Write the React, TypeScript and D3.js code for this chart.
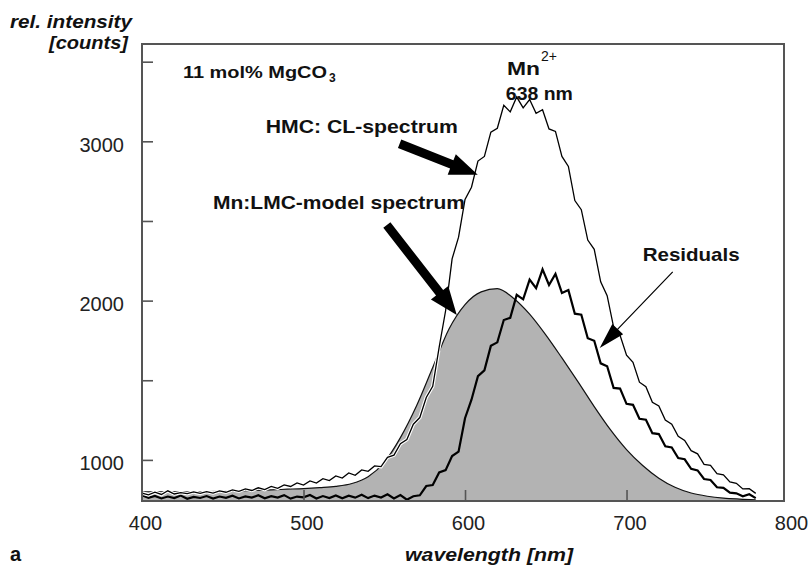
import React, { useRef, useEffect } from 'react';
import * as d3 from 'd3';

// wavelength grid of the measured spectra (nm)
const wavelengths = [
  400, 404, 408, 412, 416, 420, 424, 428, 432, 436,
  440, 444, 448, 452, 456, 460, 464, 468, 472, 476,
  480, 484, 488, 492, 496, 500, 504, 508, 512, 516,
  520, 524, 528, 532, 536, 540, 544, 548, 552, 556,
  560, 564, 568, 572, 576, 580, 584, 588, 592, 596,
  600, 604, 608, 612, 616, 620, 624, 628, 632, 636,
  640, 644, 648, 652, 656, 660, 664, 668, 672, 676,
  680, 684, 688, 692, 696, 700, 704, 708, 712, 716,
  720, 724, 728, 732, 736, 740, 744, 748, 752, 756,
  760, 764, 768, 772, 776, 780,
];

// HMC: CL-spectrum (counts)
const clSpectrum = [
  792, 781, 797, 783, 806, 786, 795, 788, 799, 790,
  801, 792, 806, 797, 812, 803, 818, 808, 825, 814,
  834, 822, 843, 833, 856, 842, 868, 855, 882, 870,
  899, 886, 918, 903, 937, 928, 962, 958, 1016, 1030,
  1102, 1128, 1224, 1266, 1392, 1462, 1708, 1938, 2262, 2398,
  2635, 2712, 2876, 2905, 3058, 3082, 3226, 3185, 3278, 3210,
  3262, 3176, 3198, 3078, 3062, 2905, 2842, 2628, 2571, 2380,
  2322, 2118, 2031, 1834, 1782, 1658, 1612, 1488, 1459, 1362,
  1338, 1250, 1224, 1148, 1122, 1058, 1038, 972, 966, 914,
  906, 862, 853, 818, 819, 790,
];

// Residuals (counts)
const residuals = [
  778, 762, 774, 758, 770, 760, 776, 756, 768, 761,
  773, 757, 770, 762, 775, 758, 771, 763, 778, 759,
  772, 764, 779, 757, 770, 765, 780, 758, 773, 761,
  777, 759, 775, 763, 781, 760, 776, 764, 784, 758,
  779, 750, 772, 778, 836, 842, 921, 936, 1024, 1052,
  1262, 1378, 1526, 1562, 1716, 1738, 1878, 1892, 2036, 2008,
  2132, 2078, 2196, 2098, 2168, 2048, 2066, 1918, 1912, 1764,
  1748, 1606, 1588, 1452, 1448, 1352, 1346, 1258, 1252, 1168,
  1162, 1086, 1078, 1012, 1004, 944, 934, 880, 874, 828,
  824, 794, 790, 772, 784, 760,
];

// Mn:LMC-model spectrum (smooth, 10 nm grid)
const modelWavelengths = [
  400, 410, 420, 430, 440, 450, 460, 470, 480, 490,
  500, 510, 520, 530, 540, 550, 560, 570, 580, 590,
  600, 610, 620, 630, 640, 650, 660, 670, 680, 690,
  700, 710, 720, 730, 740, 750, 760, 770, 780,
];
const modelSpectrum = [
  800, 800, 800, 800, 801, 803, 806, 809, 812, 816,
  820, 826, 834, 852, 895, 985, 1140, 1340, 1580, 1820,
  1975, 2055, 2075, 2015, 1915, 1785, 1640, 1490, 1335, 1190,
  1065, 965, 885, 828, 792, 772, 760, 754, 750,
];

const xTicks = [400, 500, 600, 700, 800];
const yTicks = [1000, 1500, 2000, 2500, 3000, 3500];

// annotation arrows, in data units [nm, counts]
const arrows = [
  { from: [559.5, 2985], to: [607.9, 2790], kind: 'thick' },
  { from: [551.6, 2475], to: [594.9, 1910], kind: 'thick' },
  { from: [728.6, 2180], to: [683.4, 1703], kind: 'thin' },
];

const FONT = "'Liberation Sans', Arial, Helvetica, sans-serif";

const App = () => {
  const ref = useRef(null);

  useEffect(() => {
    const svg = d3.select(ref.current);
    svg.selectAll('*').remove();

    const left = 142, right = 784, top = 44, bottom = 501;
    const x = d3.scaleLinear().domain([400, 797.5]).range([left, right]);
    const y = d3.scaleLinear().domain([742, 3611]).range([bottom, top]);

    // model spectrum, grey filled
    const model = modelWavelengths.map((w, i) => [w, modelSpectrum[i]]);
    svg.append('path')
      .datum(model)
      .attr('d', d3.area().x(d => x(d[0])).y0(bottom).y1(d => y(d[1])).curve(d3.curveMonotoneX))
      .attr('fill', '#b3b3b3');
    svg.append('path')
      .datum(model)
      .attr('d', d3.line().x(d => x(d[0])).y(d => y(d[1])).curve(d3.curveMonotoneX))
      .attr('fill', 'none')
      .attr('stroke', '#111')
      .attr('stroke-width', 1.2);

    const line = d3.line().x(d => x(d[0])).y(d => y(d[1]));

    // residuals
    svg.append('path')
      .datum(wavelengths.map((w, i) => [w, residuals[i]]))
      .attr('d', line)
      .attr('fill', 'none')
      .attr('stroke', '#000')
      .attr('stroke-width', 2.2)
      .attr('stroke-linejoin', 'miter');

    // CL spectrum with a white halo
    const cl = wavelengths.map((w, i) => [w, clSpectrum[i]]);
    svg.append('path')
      .datum(cl)
      .attr('d', line)
      .attr('fill', 'none')
      .attr('stroke', '#fff')
      .attr('stroke-width', 3.5);
    svg.append('path')
      .datum(cl)
      .attr('d', line)
      .attr('fill', 'none')
      .attr('stroke', '#000')
      .attr('stroke-width', 1.3);

    // axes, ticks pointing inward
    const yAxis = svg.append('g')
      .attr('transform', `translate(${left},0)`)
      .attr('color', '#555')
      .call(d3.axisLeft(y).tickValues(yTicks).tickSize(-11).tickPadding(18)
        .tickFormat(d => (d % 1000 === 0 ? String(d) : '')));
    yAxis.select('.domain').remove();
    yAxis.selectAll('line').attr('stroke-width', 1.6);
    yAxis.selectAll('text')
      .attr('fill', '#222')
      .attr('dy', '0.5em')
      .style('font-family', FONT)
      .style('font-size', '20px');

    const xAxis = svg.append('g')
      .attr('transform', `translate(0,${bottom})`)
      .attr('color', '#555')
      .call(d3.axisBottom(x).tickValues(xTicks).tickSize(-11).tickPadding(15).tickFormat(d3.format('d')));
    xAxis.select('.domain').remove();
    xAxis.selectAll('line').attr('stroke-width', 1.6);
    xAxis.selectAll('.tick').filter(d => d === 400 || d === 800).select('line').remove();
    xAxis.selectAll('text')
      .attr('fill', '#222')
      .attr('dx', 3)
      .style('font-family', FONT)
      .style('font-size', '20px');

    // frame
    svg.append('rect')
      .attr('x', left).attr('y', top)
      .attr('width', right - left).attr('height', bottom - top)
      .attr('fill', 'none')
      .attr('stroke', '#555')
      .attr('stroke-width', 2);

    // arrows
    const arrowShape = (from, to, shaftW, headL, headW) => {
      const x0 = x(from[0]), y0 = y(from[1]), x1 = x(to[0]), y1 = y(to[1]);
      const len = Math.hypot(x1 - x0, y1 - y0);
      const ux = (x1 - x0) / len, uy = (y1 - y0) / len;
      const nx = -uy, ny = ux;
      const bx = x1 - ux * headL, by = y1 - uy * headL;
      return [
        [x0 + nx * shaftW / 2, y0 + ny * shaftW / 2],
        [bx + nx * shaftW / 2, by + ny * shaftW / 2],
        [bx + nx * headW / 2, by + ny * headW / 2],
        [x1, y1],
        [bx - nx * headW / 2, by - ny * headW / 2],
        [bx - nx * shaftW / 2, by - ny * shaftW / 2],
        [x0 - nx * shaftW / 2, y0 - ny * shaftW / 2],
      ];
    };
    const poly = d3.line().curve(d3.curveLinearClosed);
    arrows.forEach(a => {
      if (a.kind === 'thick') {
        svg.append('path').attr('d', poly(arrowShape(a.from, a.to, 9, 28, 22))).attr('fill', '#000');
      } else {
        svg.append('path').attr('d', poly(arrowShape(a.from, a.to, 1.2, 26, 15))).attr('fill', '#000');
      }
    });

    // annotation text
    const txt = (s, px, py, opts = {}) => {
      const t = svg.append('text')
        .attr('x', px).attr('y', py)
        .attr('fill', '#111')
        .style('font-family', FONT)
        .style('font-weight', opts.weight || 'bold')
        .style('font-style', opts.italic ? 'italic' : 'normal')
        .style('font-size', `${opts.size || 19}px`)
        .attr('text-anchor', opts.anchor || 'start')
        .text(s);
      if (opts.len) t.attr('textLength', opts.len).attr('lengthAdjust', 'spacingAndGlyphs');
      return t;
    };

    txt('11 mol% MgCO', x(425.4), y(3398), { size: 17, len: 144 });
    txt('3', x(425.4) + 146, y(3398) + 4, { size: 12 });
    txt('HMC: CL-spectrum', x(595.5), y(3053), { anchor: 'end', len: 192 });
    txt('Mn:LMC-model spectrum', x(600), y(2576), { anchor: 'end', len: 252 });
    txt('Mn', x(626), y(3417), { len: 33 });
    txt('2+', x(626) + 34, y(3417) - 14, { size: 14, weight: 'normal' });
    txt('638 nm', x(625.3), y(3260), { len: 67 });
    txt('Residuals', x(710), y(2249), { len: 97 });

    // axis titles
    txt('rel. intensity', 132, 28, { italic: true, anchor: 'end', len: 122 });
    txt('[counts]', 128, 49, { italic: true, anchor: 'end', len: 79 });
    txt('wavelength [nm]', 405, 561, { italic: true, len: 168 });
    txt('a', 10, 561, { size: 20 });
  }, []);

  return (
    <svg
      ref={ref}
      width={808}
      height={568}
      style={{ position: 'absolute', left: 0, top: 0, background: 'white' }}
    />
  );
};

export default App;
